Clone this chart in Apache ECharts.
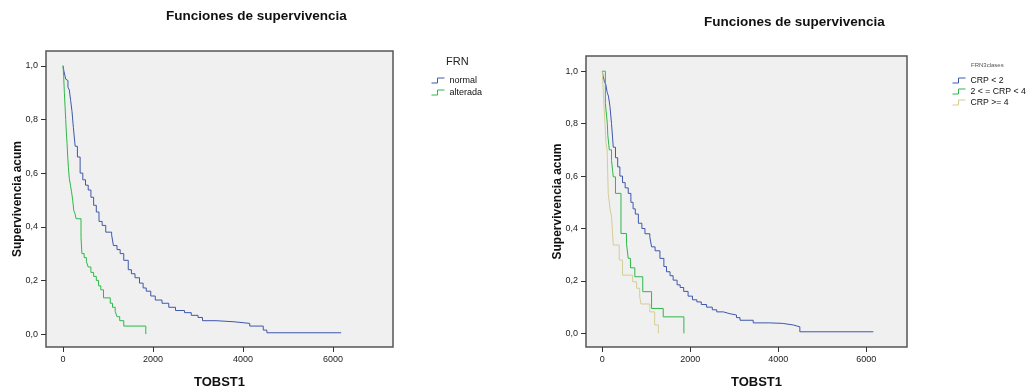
<!DOCTYPE html>
<html>
<head>
<meta charset="utf-8">
<script src="https://cdn.jsdelivr.net/npm/echarts@6/dist/echarts.min.js"></script>
<style>
  html, body { margin: 0; padding: 0; background: #fff; }
  #chart { width: 1027px; height: 389px; }
</style>
</head>
<body>
<div id="chart"></div>
<script>
// --- data (survival after each event, step holds to next time) ---
const normalT = [0, 20, 40, 60, 80, 110, 140, 170, 200, 230, 270, 320, 380, 440, 500, 560, 620, 680, 740, 800, 870, 950, 1080, 1120, 1200, 1270, 1350, 1450, 1520, 1600, 1700, 1780, 1850, 1950, 2050, 2200, 2350, 2500, 2700, 2850, 3000, 3100, 3400, 3800, 4150, 4450, 4530, 6180]
const normalS = [1.0, 0.98, 0.965, 0.95, 0.945, 0.92, 0.91, 0.87, 0.83, 0.77, 0.70, 0.66, 0.60, 0.575, 0.555, 0.537, 0.51, 0.48, 0.455, 0.42, 0.405, 0.38, 0.37, 0.33, 0.315, 0.30, 0.275, 0.24, 0.225, 0.21, 0.19, 0.172, 0.16, 0.142, 0.127, 0.115, 0.10, 0.088, 0.08, 0.07, 0.062, 0.05, 0.046, 0.04, 0.03, 0.015, 0.005, 0.005]

const alteradaT = [0, 15, 30, 45, 60, 75, 90, 105, 120, 140, 165, 190, 215, 240, 265, 290, 400, 420, 470, 520, 560, 620, 680, 740, 790, 840, 900, 1050, 1100, 1160, 1200, 1260, 1350, 1840]
const alteradaS = [1.0, 0.96, 0.90, 0.85, 0.80, 0.75, 0.71, 0.66, 0.62, 0.58, 0.555, 0.53, 0.50, 0.46, 0.45, 0.43, 0.36, 0.30, 0.285, 0.27, 0.25, 0.23, 0.215, 0.20, 0.18, 0.165, 0.135, 0.115, 0.10, 0.085, 0.065, 0.05, 0.03, 0]

const crpLowT = [0, 20, 50, 80, 110, 140, 175, 210, 250, 300, 350, 400, 460, 520, 590, 650, 700, 750, 820, 900, 970, 1080, 1120, 1200, 1310, 1400, 1460, 1540, 1610, 1700, 1770, 1850, 1950, 2050, 2150, 2250, 2370, 2500, 2600, 2750, 2900, 3050, 3130, 3430, 3800, 4100, 4340, 4490, 6160]
const crpLowS = [1.0, 0.98, 0.96, 0.95, 0.92, 0.905, 0.865, 0.80, 0.71, 0.67, 0.635, 0.60, 0.575, 0.555, 0.534, 0.50, 0.475, 0.455, 0.42, 0.40, 0.38, 0.368, 0.33, 0.315, 0.286, 0.255, 0.235, 0.22, 0.203, 0.185, 0.175, 0.16, 0.142, 0.128, 0.12, 0.11, 0.10, 0.09, 0.082, 0.075, 0.07, 0.06, 0.05, 0.04, 0.038, 0.032, 0.025, 0.006, 0.004]

const crpMidT = [0, 70, 115, 125, 160, 210, 250, 300, 425, 550, 590, 640, 740, 920, 1120, 1385, 1855]
const crpMidS = [1.0, 0.877, 0.80, 0.756, 0.70, 0.66, 0.597, 0.534, 0.381, 0.343, 0.286, 0.25, 0.216, 0.159, 0.095, 0.063, 0]

const crpHighT = [0, 40, 60, 85, 110, 135, 175, 210, 250, 385, 460, 690, 780, 850, 880, 1080, 1190, 1275]
const crpHighS = [1.0, 0.864, 0.807, 0.724, 0.70, 0.534, 0.477, 0.445, 0.337, 0.28, 0.222, 0.197, 0.172, 0.14, 0.112, 0.082, 0.032, 0]

const yTicks = [0, 0.2, 0.4, 0.6, 0.8, 1.0]
const xTicks = [0, 2000, 4000, 6000]

const BLUE = '#3E58AC'
const GREEN = '#2EB848'
const BEIGE = '#D3CE97'
const FONT = '"Liberation Sans", Arial, sans-serif'
const STEP_ICON = 'path://M0,5 L6,5 L6,0 L13,0'

const zip = (t, s) => t.map((v, i) => [v, s[i]])

const chart = echarts.init(document.getElementById('chart'), null, { renderer: 'canvas' })

const grid = (left, top, width, height) => ({
  left, top, width, height,
  outerBoundsMode: 'none',
  containLabel: false,
  show: true,
  backgroundColor: '#f0f0f0',
  borderColor: '#555',
  borderWidth: 1.5,
})

const xAxis = (gridIndex, min, max, padLeft) => ({
  type: 'value',
  gridIndex,
  min, max,
  name: 'TOBST1',
  nameLocation: 'middle',
  nameGap: 29,
  nameMoveOverlap: false,
  nameTextStyle: { fontFamily: FONT, fontWeight: 'bold', fontSize: 13, color: '#111', padding: [0, 0, 0, padLeft] },
  axisLine: { show: false, onZero: false },
  axisTick: { show: true, customValues: xTicks, length: 5, lineStyle: { color: '#333' } },
  axisLabel: { customValues: xTicks, fontFamily: FONT, fontSize: 9, color: '#222', margin: 8,
    formatter: (v) => String(v) },
  splitLine: { show: false },
})

const yAxis = (gridIndex, min, max) => ({
  type: 'value',
  gridIndex,
  min, max,
  name: 'Supervivencia acum',
  nameLocation: 'middle',
  nameGap: 22,
  nameMoveOverlap: false,
  nameTextStyle: { fontFamily: FONT, fontWeight: 'bold', fontSize: 12, color: '#111' },
  axisLine: { show: false, onZero: false },
  axisTick: { show: true, customValues: yTicks, length: 5, lineStyle: { color: '#333' } },
  axisLabel: {
    customValues: yTicks,
    fontFamily: FONT, fontSize: 9, color: '#222', margin: 8,
    formatter: (v) => v.toFixed(1).replace('.', ','),
  },
  splitLine: { show: false },
})

const km = (name, t, s, color, idx) => ({
  name,
  type: 'line',
  step: 'end',
  xAxisIndex: idx,
  yAxisIndex: idx,
  data: zip(t, s),
  showSymbol: false,
  symbol: 'none',
  lineStyle: { color, width: 1 },
  itemStyle: { color },
  silent: true,
  animation: false,
})

const legendItem = (name, color) => ({
  name,
  icon: STEP_ICON,
  itemStyle: { color: 'none', borderColor: color, borderWidth: 1 },
  lineStyle: { opacity: 0, width: 0 },
})

chart.setOption({
  animation: false,
  title: [
    { text: 'Funciones de supervivencia', left: 166, top: 9, padding: 0,
      textStyle: { fontFamily: FONT, fontWeight: 'bold', fontSize: 13.5, color: '#111' } },
    { text: 'Funciones de supervivencia', left: 704, top: 15, padding: 0,
      textStyle: { fontFamily: FONT, fontWeight: 'bold', fontSize: 13.5, color: '#111' } },
    { text: 'FRN', left: 446, top: 56, padding: 0,
      textStyle: { fontFamily: FONT, fontWeight: 'normal', fontSize: 11, color: '#222' } },
    { text: 'FRN3clases', left: 971, top: 62, padding: 0,
      textStyle: { fontFamily: FONT, fontWeight: 'normal', fontSize: 6, color: '#555' } },
  ],
  legend: [
    {
      left: 429, top: 75.5, padding: 0, orient: 'vertical',
      itemWidth: 13, itemHeight: 5, itemGap: 2, symbolKeepAspect: false,
      lineStyle: { opacity: 0, width: 0 },
      textStyle: { fontFamily: FONT, fontSize: 9, color: '#111' },
      data: [legendItem('normal', BLUE), legendItem('alterada', GREEN)],
      selectedMode: false,
    },
    {
      left: 950, top: 75.5, padding: 0, orient: 'vertical',
      itemWidth: 13, itemHeight: 5, itemGap: 1, symbolKeepAspect: false,
      lineStyle: { opacity: 0, width: 0 },
      textStyle: { fontFamily: FONT, fontSize: 8.7, color: '#111' },
      data: [legendItem('CRP < 2', BLUE), legendItem('2 < = CRP < 4', GREEN), legendItem('CRP >= 4', BEIGE)],
      selectedMode: false,
    },
  ],
  grid: [grid(46, 51, 347, 296), grid(586, 56, 321, 291)],
  xAxis: [xAxis(0, -378, 7333, 0), xAxis(1, -370, 6925, 20)],
  yAxis: [yAxis(0, -0.048, 1.055), yAxis(1, -0.052, 1.058)],
  series: [
    km('normal', normalT, normalS, BLUE, 0),
    km('alterada', alteradaT, alteradaS, GREEN, 0),
    km('CRP < 2', crpLowT, crpLowS, BLUE, 1),
    km('2 < = CRP < 4', crpMidT, crpMidS, GREEN, 1),
    km('CRP >= 4', crpHighT, crpHighS, BEIGE, 1),
  ],
})

window.addEventListener('resize', () => chart.resize())
</script>
</body>
</html>
